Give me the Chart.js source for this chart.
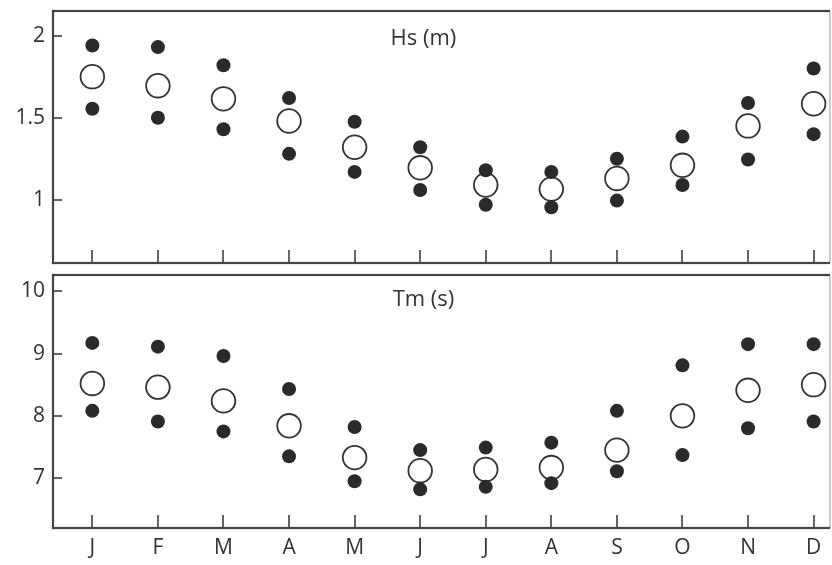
<!DOCTYPE html>
<html>
<head>
<meta charset="utf-8">
<title>Hs and Tm by month</title>
<script src="https://cdn.jsdelivr.net/npm/chart.js@4.4.1/dist/chart.umd.min.js"></script>
<style>
  body { margin: 0; background: #fff; }
  #wrap { position: relative; width: 832px; height: 565px; overflow: hidden; }
  canvas { position: absolute; left: 0; }
  #hsChart { top: 0; }
  #tmChart { top: 270px; }
</style>
</head>
<body>
<div id="wrap">
  <canvas id="hsChart" width="832" height="270"></canvas>
  <canvas id="tmChart" width="832" height="295"></canvas>
</div>
<script>
'use strict';

const months = ['J', 'F', 'M', 'A', 'M', 'J', 'J', 'A', 'S', 'O', 'N', 'D'];

// Hs (m): upper dot, mean (open circle), lower dot
const hsHigh = [1.94, 1.93, 1.82, 1.62, 1.475, 1.32, 1.18, 1.17, 1.25, 1.385, 1.59, 1.80];
const hsMean = [1.75, 1.695, 1.615, 1.48, 1.32, 1.195, 1.09, 1.065, 1.13, 1.21, 1.45, 1.585];
const hsLow = [1.555, 1.50, 1.43, 1.28, 1.17, 1.06, 0.97, 0.955, 0.995, 1.09, 1.245, 1.40];
const hsTicks = [1, 1.5, 2];

// Tm (s)
const tmHigh = [9.17, 9.11, 8.96, 8.43, 7.82, 7.45, 7.49, 7.57, 8.08, 8.81, 9.15, 9.15];
const tmMean = [8.52, 8.46, 8.24, 7.84, 7.33, 7.12, 7.14, 7.17, 7.45, 8.00, 8.41, 8.50];
const tmLow = [8.08, 7.91, 7.75, 7.35, 6.95, 6.82, 6.86, 6.92, 7.11, 7.37, 7.80, 7.91];
const tmTicks = [7, 8, 9, 10];

const ink = '#333';
const fontName = "'Open Sans', 'Noto Sans', sans-serif";

function toPoints(arr) {
  return arr.map((v, i) => ({ x: i + 1, y: v }));
}

function makeDatasets(high, mean, low) {
  const dot = { pointRadius: 7, pointBackgroundColor: '#2a2a2a', pointBorderWidth: 0, showLine: false, clip: false };
  return [
    Object.assign({ data: toPoints(high) }, dot),
    Object.assign({ data: toPoints(low) }, dot),
    { data: toPoints(mean), pointRadius: 11.8, pointBackgroundColor: '#fff',
      pointBorderColor: ink, pointBorderWidth: 1.8, showLine: false, clip: false }
  ];
}

// frame, inward ticks and the panel title
const framePlugin = {
  id: 'frame',
  afterDraw(chart, args, opts) {
    const ctx = chart.ctx;
    const a = chart.chartArea;
    const xs = chart.scales.x;
    const ys = chart.scales.y;
    ctx.save();
    ctx.fillStyle = ink;
    months.forEach((m, i) => {
      const px = Math.round(xs.getPixelForValue(i + 1));
      ctx.fillRect(px - 0.75, a.bottom - 13, 1.5, 13);
    });
    opts.ticks.forEach(v => {
      const py = Math.round(ys.getPixelForValue(v));
      ctx.fillRect(a.left, py - 0.75, 9, 1.5);
    });
    ctx.fillStyle = '#aaa';
    ctx.fillRect(a.right - 0.6, a.top, 1.2, a.bottom - a.top);
    ctx.fillStyle = '#444';
    ctx.fillRect(a.left - 1.1, a.top - 1.1, a.right - a.left + 1.1, 2.2);
    ctx.fillRect(a.left - 1.1, a.top - 1.1, 2.2, a.bottom - a.top + 2.2);
    ctx.fillRect(a.left - 1.1, a.bottom - 1.1, a.right - a.left + 1.1, 2.2);
    ctx.fillStyle = ink;
    ctx.font = '22px ' + fontName;
    ctx.textAlign = 'center';
    ctx.textBaseline = 'middle';
    ctx.fillText(opts.title, xs.getPixelForValue(6.05), a.top + opts.titleDy);
    ctx.restore();
  }
};

function makeChart(id, datasets, yMin, yMax, yTicks, title, pad, showX, titleDy) {
  return new Chart(document.getElementById(id), {
    type: 'scatter',
    data: { datasets: datasets },
    plugins: [framePlugin],
    options: {
      responsive: false,
      animation: false,
      layout: { padding: pad, autoPadding: false },
      plugins: {
        legend: { display: false },
        tooltip: { enabled: false },
        frame: { ticks: yTicks, title: title, titleDy: titleDy }
      },
      scales: {
        x: {
          type: 'linear',
          min: 0.4,
          max: 12.25,
          display: showX,
          afterBuildTicks: s => { s.ticks = months.map((m, i) => ({ value: i + 1 })); },
          afterFit: s => {
            s.height = showX ? 37 : 0;
            s.paddingLeft = 0;
            s.paddingRight = 0;
          },
          grid: { display: false, drawTicks: false },
          border: { display: false },
          ticks: {
            padding: 7,
            color: ink,
            font: { family: fontName, size: 21 },
            maxRotation: 0,
            autoSkip: false,
            callback: v => months[Math.round(v) - 1]
          }
        },
        y: {
          min: yMin,
          max: yMax,
          afterBuildTicks: s => { s.ticks = yTicks.map(v => ({ value: v })); },
          afterFit: s => {
            s.width = 53;
            s.paddingTop = 0;
            s.paddingBottom = 0;
          },
          grid: { display: false, drawTicks: false },
          border: { display: false },
          ticks: {
            padding: 8,
            color: ink,
            font: { family: fontName, size: 21 },
            callback: v => String(v)
          }
        }
      }
    }
  });
}

makeChart('hsChart', makeDatasets(hsHigh, hsMean, hsLow), 0.615, 2.15, hsTicks, 'Hs (m)',
  { top: 11, right: 2, bottom: 7, left: 0 }, false, 28);

makeChart('tmChart', makeDatasets(tmHigh, tmMean, tmLow), 6.2, 10.26, tmTicks, 'Tm (s)',
  { top: 5, right: 2, bottom: 0, left: 0 }, true, 25);
</script>
</body>
</html>
